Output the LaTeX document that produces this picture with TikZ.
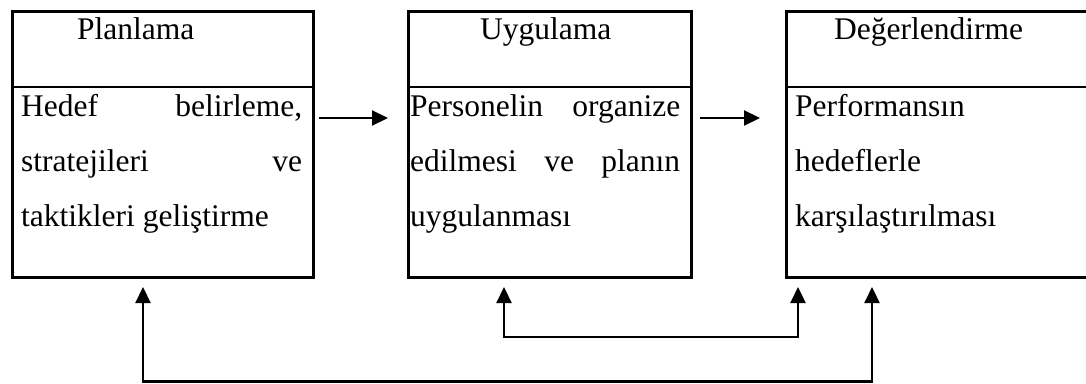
\documentclass[tikz,border=0pt]{standalone}
\usepackage{fontspec}
\setmainfont{Liberation Serif}
\usetikzlibrary{arrows.meta}
\tikzset{
  box/.style={draw=black, line width=2.5pt, rectangle, inner sep=0pt, anchor=north west},
  divider/.style={draw=black, line width=2.5pt},
  txt/.style={anchor=base west, inner sep=0pt, font=\fontsize{31.5}{55}\selectfont},
  conn/.style={draw=black, line width=2.2pt, -{Triangle[length=16pt,width=15pt]}},
  conn2/.style={draw=black, line width=2.2pt, {Triangle[length=16pt,width=15pt]}-{Triangle[length=16pt,width=15pt]}}
}
\begin{document}
\begin{tikzpicture}[x=1pt,y=-1pt]
\useasboundingbox (0,0) rectangle (1086,383);
\clip (0,0) rectangle (1086,383);
% boxes
\node[box, minimum width=301pt, minimum height=266pt] (b1) at (11,10) {};
\node[box, minimum width=283pt, minimum height=266pt] (b2) at (407,10) {};
\node[box, minimum width=320pt, minimum height=266pt] (b3) at (785,10) {};
\draw[divider] (11,87) -- (312,87);
\draw[divider] (407,87) -- (690,87);
\draw[divider] (785,87) -- (1100,87);
% headers
\node[txt] (h1) at (77,39) {Planlama};
\node[txt] (h2) at (480,39) {Uygulama};
\node[txt] (h3) at (834,39) {Değerlendirme};
% box 1 body
\node[txt] (t11) at (21,116) {\makebox[281pt][s]{Hedef belirleme,}};
\node[txt] (t12) at (21,171) {\makebox[281pt][s]{stratejileri ve}};
\node[txt] (t13) at (21,226) {taktikleri geliştirme};
% box 2 body
\node[txt] (t21) at (410,116) {\makebox[270pt][s]{Personelin organize}};
\node[txt] (t22) at (410,171) {\makebox[270pt][s]{edilmesi ve planın}};
\node[txt] (t23) at (410,226) {uygulanması};
% box 3 body
\node[txt] (t31) at (795,116) {Performansın};
\node[txt] (t32) at (795,171) {hedeflerle};
\node[txt] (t33) at (795,226) {karşılaştırılması};
% arrow coordinates
\coordinate (a1s) at (319,118);
\coordinate (a1e) at (388,118);
\coordinate (a2s) at (700,118);
\coordinate (a2e) at (760,118);
\coordinate (m1) at (504,287);
\coordinate (m1c) at (504,337);
\coordinate (m2c) at (798,337);
\coordinate (m2) at (798,287);
\coordinate (l1) at (143,287);
\coordinate (l1c) at (143,381.5);
\coordinate (l2c) at (872,381.5);
\coordinate (l2) at (872,287);
\draw[conn] (a1s) -- (a1e);
\draw[conn] (a2s) -- (a2e);
\draw[conn2] (m1) -- (m1c) -- (m2c) -- (m2);
\draw[conn2] (l1) -- (l1c) -- (l2c) -- (l2);
\end{tikzpicture}
\end{document}
